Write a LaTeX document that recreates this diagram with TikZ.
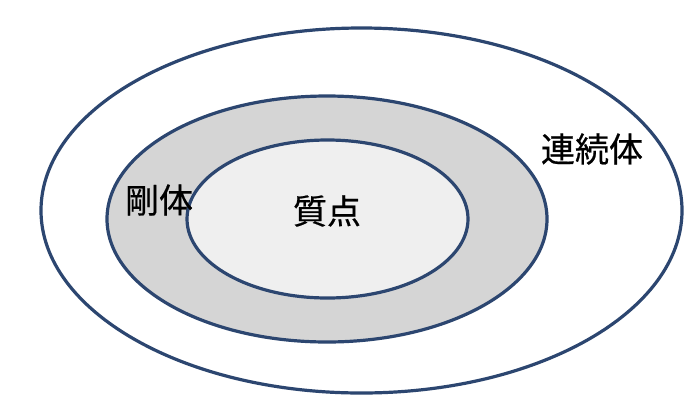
\documentclass[tikz,border=0pt]{standalone}
\usepackage{fontspec}
\newfontfamily\jpfont[FakeBold=0.6]{Noto Sans CJK JP}
\usetikzlibrary{shapes.geometric}
\definecolor{ringline}{HTML}{2C4670}
\definecolor{midfill}{HTML}{D5D5D5}
\definecolor{innerfill}{HTML}{EFEFEF}
\tikzset{
  ring/.style={ellipse, draw=ringline, line width=3.2pt, inner sep=0pt},
  lbl/.style={font=\jpfont\fontsize{34}{38}\selectfont, text=black, inner sep=0pt}
}
\begin{document}
\begin{tikzpicture}[x=1pt,y=-1pt]
\useasboundingbox (0,0) rectangle (700,410);
\fill[white] (0,0) rectangle (700,410);
\node[ring, fill=white, minimum width=641pt, minimum height=365pt] (outer) at (361.5,210.5) {};
\node[ring, fill=midfill, minimum width=440pt, minimum height=246pt] (middle) at (327,219) {};
\node[ring, fill=innerfill, minimum width=281pt, minimum height=158pt] (inner) at (327.5,219) {};
\node[lbl] (renzoku) at (592,149) {連続体};
\node[lbl] (gotai) at (159,200) {剛体};
\node[lbl] (shitten) at (327,211) {質点};
\end{tikzpicture}
\end{document}
